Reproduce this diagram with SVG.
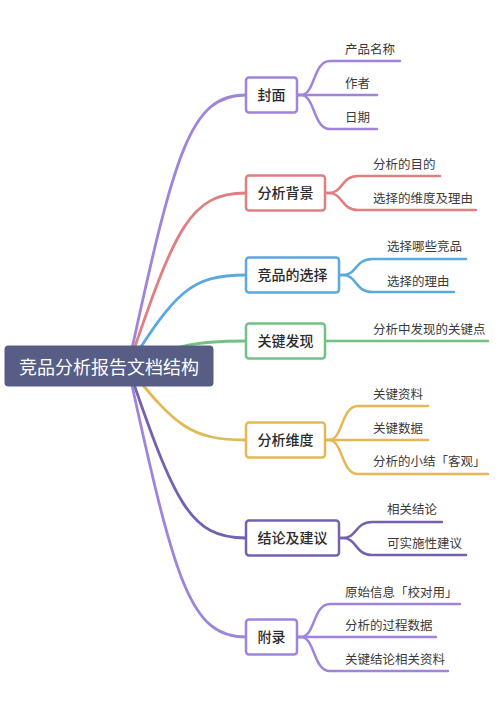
<svg xmlns="http://www.w3.org/2000/svg" width="504" height="703" viewBox="0 0 504 703">
<style>
.c{fill:none;stroke-width:2.8;stroke-linecap:round}
.l{fill:none;stroke-width:2.5;stroke-linecap:round}
.n{fill:#ffffff;stroke-width:2.5}
.t{font-family:"Noto Sans CJK SC","Noto Sans",sans-serif;font-size:14px;fill:#2b2b2b;text-anchor:middle;font-weight:500}
.lt{font-family:"Noto Sans CJK SC","Noto Sans",sans-serif;font-size:12.5px;fill:#3a3a3a}
.p{stroke:#9f84dc}.r{stroke:#e07f81}.b{stroke:#5aa9de}.g{stroke:#72c284}.y{stroke:#e2b955}.d{stroke:#7461b0}
</style>
<rect width="504" height="703" fill="#ffffff"/>
<g id="connectors">
<path class="c p" d="M128,367 C175,150 190,95 246,95"/>
<path class="c r" d="M128,367 C175,228 190,193 246,193"/>
<path class="c b" d="M128,367 C175,293 190,275 246,275"/>
<path class="c g" d="M128,367 C175,346 190,341 246,341"/>
<path class="c y" d="M128,367 C175,425 190,440 246,440"/>
<path class="c d" d="M128,367 C175,504 190,538 246,538"/>
<path class="c p" d="M128,367 C175,583 190,637 246,637"/>

<path class="l p" d="M297,95 L301,95 C315,95 313,61 330,61 L400,61"/>
<path class="l p" d="M297,95 L377,95"/>
<path class="l p" d="M297,95 L301,95 C315,95 313,129 330,129 L377,129"/>

<path class="l r" d="M325,193 L329,193 C343,193 341,176 358,176 L440,176"/>
<path class="l r" d="M325,193 L329,193 C343,193 341,210 358,210 L476,210"/>

<path class="l b" d="M339,275 L343,275 C357,275 355,259 372,259 L466,259"/>
<path class="l b" d="M339,275 L343,275 C357,275 355,292 372,292 L454,292"/>

<path class="l g" d="M325,341 L488,341"/>

<path class="l y" d="M325,440 L329,440 C343,440 341,406 358,406 L428,406"/>
<path class="l y" d="M325,440 L428,440"/>
<path class="l y" d="M325,440 L329,440 C343,440 341,474 358,474 L488,474"/>

<path class="l d" d="M339,538 L343,538 C357,538 355,522 372,522 L442,522"/>
<path class="l d" d="M339,538 L343,538 C357,538 355,555 372,555 L466,555"/>

<path class="l p" d="M297,637 L301,637 C315,637 313,604 330,604 L460,604"/>
<path class="l p" d="M297,637 L436,637"/>
<path class="l p" d="M297,637 L301,637 C315,637 313,671 330,671 L448,671"/>
</g>
<g id="root">
<rect x="4.5" y="345.5" width="209" height="41" rx="4" fill="#585d85"/>
<text x="109" y="373.5" style="font-family:'Noto Sans CJK SC','Noto Sans',sans-serif;font-size:18px;fill:#ffffff;text-anchor:middle">竞品分析报告文档结构</text>
</g>
<g id="n1"><rect class="n p" x="246" y="77.5" width="51" height="35" rx="3"/><text class="t" x="271.5" y="100">封面</text></g>
<g id="n2"><rect class="n r" x="246" y="175.5" width="79" height="35" rx="3"/><text class="t" x="285.5" y="198">分析背景</text></g>
<g id="n3"><rect class="n b" x="246" y="257.5" width="93" height="35" rx="3"/><text class="t" x="292.5" y="280">竞品的选择</text></g>
<g id="n4"><rect class="n g" x="246" y="323.5" width="79" height="35" rx="3"/><text class="t" x="285.5" y="346">关键发现</text></g>
<g id="n5"><rect class="n y" x="246" y="422.5" width="79" height="35" rx="3"/><text class="t" x="285.5" y="445">分析维度</text></g>
<g id="n6"><rect class="n d" x="246" y="520.5" width="93" height="35" rx="3"/><text class="t" x="292.5" y="543">结论及建议</text></g>
<g id="n7"><rect class="n p" x="246" y="619.5" width="51" height="35" rx="3"/><text class="t" x="271.5" y="642">附录</text></g>
<g id="leaves">
<text class="lt" x="345" y="53.5">产品名称</text>
<text class="lt" x="345" y="87.5">作者</text>
<text class="lt" x="345" y="121.5">日期</text>
<text class="lt" x="373" y="168.5">分析的目的</text>
<text class="lt" x="373" y="202.5">选择的维度及理由</text>
<text class="lt" x="387" y="250.5">选择哪些竞品</text>
<text class="lt" x="387" y="285.5">选择的理由</text>
<text class="lt" x="373" y="333.5">分析中发现的关键点</text>
<text class="lt" x="373" y="398.5">关键资料</text>
<text class="lt" x="373" y="432.5">关键数据</text>
<text class="lt" x="373" y="465.5">分析的小结「客观」</text>
<text class="lt" x="387" y="513.5">相关结论</text>
<text class="lt" x="387" y="547.5">可实施性建议</text>
<text class="lt" x="345" y="596.5">原始信息「校对用」</text>
<text class="lt" x="345" y="629.5">分析的过程数据</text>
<text class="lt" x="345" y="663.5">关键结论相关资料</text>
</g>
</svg>
